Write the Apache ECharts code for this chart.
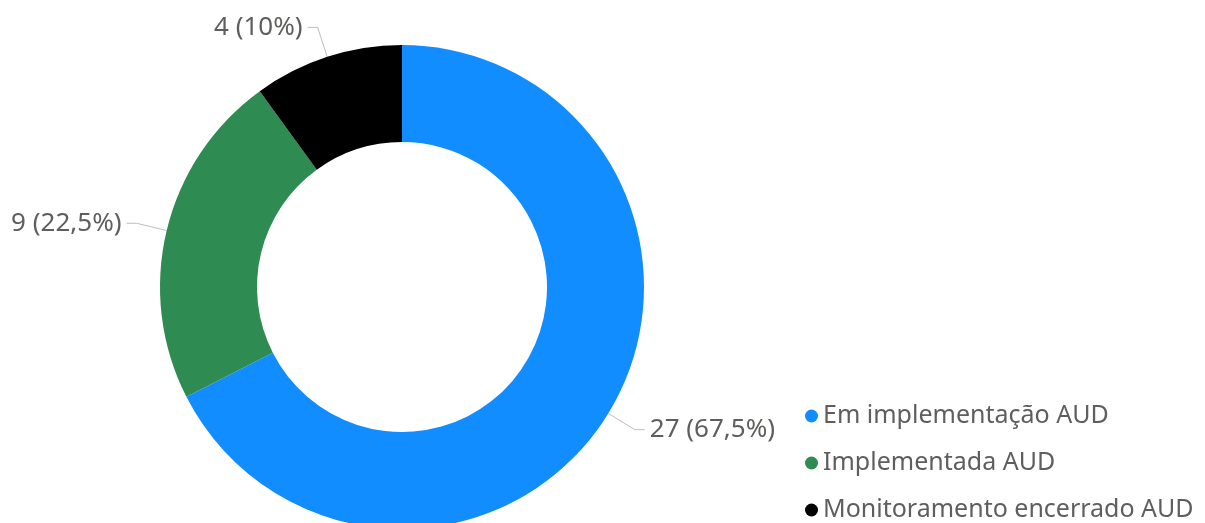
<!DOCTYPE html>
<html>
<head>
<meta charset="utf-8">
<script src="https://cdn.jsdelivr.net/npm/echarts@6/dist/echarts.min.js"></script>
<style>
html,body{margin:0;padding:0;background:#fff;}
#main{width:1205px;height:523px;}
</style>
</head>
<body>
<div id="main"></div>
<script>
const categories = ['Em implementação AUD', 'Implementada AUD', 'Monitoramento encerrado AUD'];
const values = [27, 9, 4];
const colors = ['#118DFF', '#2E8B52', '#000000'];

const chart = echarts.init(document.getElementById('main'), null, {renderer: 'canvas'});
const font = '"Segoe UI", "Noto Sans", "Open Sans", sans-serif';
chart.setOption({
  animation: false,
  legend: {
    orient: 'vertical',
    left: 805,
    top: 401,
    height: 160,
    padding: 0,
    icon: 'circle',
    itemWidth: 13,
    itemHeight: 13,
    itemGap: 17,
    data: categories,
    textStyle: {fontFamily: font, fontSize: 25, lineHeight: 30, color: '#605E5C'}
  },
  series: [{
    type: 'pie',
    center: [402, 287],
    radius: [145, 242],
    startAngle: 90,
    clockwise: true,
    avoidLabelOverlap: false,
    data: categories.map((c, i) => ({
      name: c,
      value: values[i],
      itemStyle: {color: colors[i]}
    })),
    label: {
      show: true,
      position: 'outside',
      fontFamily: font,
      fontSize: 26,
      color: '#605E5C',
      distanceToLabelLine: 5,
      formatter: p => p.value + ' (' + String(p.percent).replace('.', ',') + '%)'
    },
    labelLine: {
      show: true,
      length: 31,
      length2: 10,
      lineStyle: {color: '#BDBDBD', width: 1}
    }
  }]
});
</script>
</body>
</html>
